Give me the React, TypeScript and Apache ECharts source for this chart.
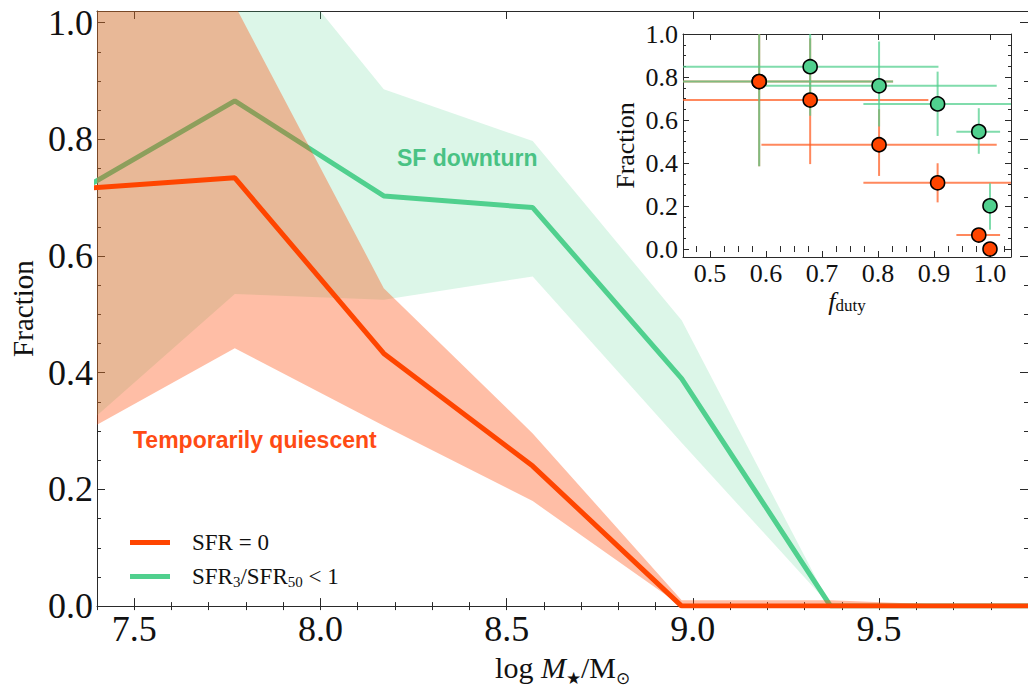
import React, { useEffect, useRef } from "react";
import * as echarts from "echarts";

// ---- main panel: fraction vs stellar mass ----
const massX = [7.37, 7.77, 8.17, 8.57, 8.97, 9.37, 9.77, 10.17];
const sfr0Line = [0.716, 0.734, 0.433, 0.24, 0, 0, 0, 0];
const sfr0Low = [0.3, 0.442, 0.309, 0.18, 0, 0, 0, 0];
const sfr0High = [1.1, 1.03, 0.545, 0.296, 0.01, 0.01, 0, 0];
const downLine = [0.718, 0.866, 0.703, 0.683, 0.39, 0, 0, 0];
const downLow = [0.31, 0.535, 0.525, 0.565, 0.28, 0, 0, 0];
const downHigh = [1.1, 1.2, 0.886, 0.797, 0.49, 0, 0, 0];

const massTicks = [7.5, 8.0, 8.5, 9.0, 9.5];
const massMinorTicks = [7.4, 7.5, 7.6, 7.7, 7.8, 7.9, 8.0, 8.1, 8.2, 8.3, 8.4, 8.5, 8.6, 8.7, 8.8, 8.9, 9.0, 9.1, 9.2, 9.3, 9.4, 9.5, 9.6, 9.7, 9.8, 9.9];
const fracTicks = [0, 0.2, 0.4, 0.6, 0.8, 1.0];
const fracMinorTicks = [0.05, 0.1, 0.15, 0.25, 0.3, 0.35, 0.45, 0.5, 0.55, 0.65, 0.7, 0.75, 0.85, 0.9, 0.95];

// ---- inset: fraction vs duty cycle ----
const redDutyX = [0.588, 0.679, 0.802, 0.9065, 0.98, 1.0];
const redFracY = [0.779, 0.693, 0.485, 0.308, 0.065, 0.0];
const redDutyLo = [0.4, 0.4, 0.592, 0.774, 0.94, 1.0];
const redDutyHi = [0.827, 0.89, 1.012, 1.06, 1.018, 1.0];
const redFracLo = [0.385, 0.395, 0.34, 0.217, 0.065, 0.0];
const redFracHi = [1.05, 0.98, 0.65, 0.399, 0.065, 0.0];

const greenDutyX = [0.588, 0.679, 0.802, 0.9065, 0.98, 1.0];
const greenFracY = [0.779, 0.848, 0.759, 0.675, 0.546, 0.201];
const greenDutyLo = [0.4, 0.4, 0.6, 0.774, 0.94, 1.0];
const greenDutyHi = [0.827, 0.908, 1.012, 1.06, 1.018, 1.0];
const greenFracLo = [0.385, 0.62, 0.57, 0.526, 0.443, 0.09];
const greenFracHi = [1.05, 1.05, 0.965, 0.825, 0.655, 0.306];

const dutyTicks = [0.5, 0.6, 0.7, 0.8, 0.9, 1.0];
const dutyMinorTicks = [0.475, 0.525, 0.55, 0.575, 0.625, 0.65, 0.675, 0.725, 0.75, 0.775, 0.825, 0.85, 0.875, 0.925, 0.95, 0.975, 1.025];
const insetFracTicks = [0, 0.2, 0.4, 0.6, 0.8, 1.0];
const insetFracMinorTicks = [0.05, 0.1, 0.15, 0.25, 0.3, 0.35, 0.45, 0.5, 0.55, 0.65, 0.7, 0.75, 0.85, 0.9, 0.95];

const SERIF = "Liberation Serif";
const SANS = "Liberation Sans";
const RED = "#ff4500";
const GREEN = "#50d08e";
const AXIS = "#2a2a2a";

function buildAxes(
  grid: number,
  pos: string,
  opp: string,
  min: number,
  max: number,
  major: number[],
  minor: number[],
  majorLen: number,
  minorLen: number,
  labelSize: number,
  labelMargin: number,
  extra: any
) {
  const base = { type: "value", gridIndex: grid, min, max, splitLine: { show: false } };
  const lineOn = { show: true, onZero: false, lineStyle: { color: AXIS, width: 1 } };
  const tick = (vals: number[], len: number) => ({
    show: true,
    inside: true,
    length: len,
    customValues: vals,
    lineStyle: { color: AXIS, width: 1 },
  });
  return [
    {
      ...base,
      position: pos,
      axisLine: lineOn,
      axisTick: tick(major, majorLen),
      axisLabel: {
        show: true,
        customValues: major,
        formatter: (v: number) => v.toFixed(1),
        fontFamily: SERIF,
        fontSize: labelSize,
        color: "#111",
        margin: labelMargin,
      },
      ...extra,
    },
    { ...base, position: pos, axisLine: { show: false }, axisTick: tick(minor, minorLen), axisLabel: { show: false } },
    { ...base, position: opp, axisLine: lineOn, axisTick: tick(major, majorLen), axisLabel: { show: false } },
    { ...base, position: opp, axisLine: { show: false }, axisTick: tick(minor, minorLen), axisLabel: { show: false } },
  ];
}

function errorBarRender(color: string) {
  return (params: any, api: any) => {
    const x = api.value(0);
    const y = api.value(1);
    const h1 = api.coord([api.value(2), y]);
    const h2 = api.coord([api.value(3), y]);
    const v1 = api.coord([x, api.value(4)]);
    const v2 = api.coord([x, api.value(5)]);
    const st = { stroke: color, lineWidth: 2, opacity: 0.72 };
    return {
      type: "group",
      children: [
        { type: "line", shape: { x1: h1[0], y1: h1[1], x2: h2[0], y2: h2[1] }, style: st },
        { type: "line", shape: { x1: v1[0], y1: v1[1], x2: v2[0], y2: v2[1] }, style: st },
      ],
    };
  };
}

function bandRender(xs: number[], lo: number[], hi: number[], fill: string) {
  return (params: any, api: any) => {
    if (params.dataIndex !== 0) return null;
    const upper = xs.map((x, i) => api.coord([x, hi[i]]));
    const lower = xs.map((x, i) => api.coord([x, lo[i]])).reverse();
    return { type: "polygon", shape: { points: upper.concat(lower) }, style: { fill } };
  };
}

export default function App() {
  const ref = useRef<HTMLDivElement>(null);

  useEffect(() => {
    document.body.style.margin = "0";
    if (!ref.current) return;
    const chart = echarts.init(ref.current, undefined, { renderer: "svg" });

    const pts = (ys: number[]) => massX.map((x, i) => [x, ys[i]]);
    const bandRows = (lo: number[], hi: number[]) => massX.map((x, i) => [x, lo[i], hi[i]]);
    const errRows = (xs: number[], ys: number[], xl: number[], xh: number[], yl: number[], yh: number[]) =>
      xs.map((x, i) => [x, ys[i], xl[i], xh[i], yl[i], yh[i]]);

    const mainName = {
      name: "{n|log }{i|M}{s|★}{n|/M}{s|⊙}",
      nameLocation: "middle",
      nameGap: 37,
      nameTextStyle: {
        rich: {
          n: { fontFamily: SERIF, fontSize: 30, color: "#111", lineHeight: 40 },
          i: { fontFamily: SERIF, fontSize: 30, fontStyle: "italic", color: "#111", lineHeight: 40 },
          s: { fontFamily: SERIF, fontSize: 17, color: "#111", verticalAlign: "bottom" },
        },
      },
    };
    const mainYName = {
      name: "Fraction",
      nameLocation: "middle",
      nameGap: 56,
      nameRotate: 90,
      nameTextStyle: { fontFamily: SERIF, fontSize: 29, color: "#111" },
    };
    const insetXName = {
      name: "{f|f}{s|duty}",
      nameLocation: "middle",
      nameGap: 31,
      nameTextStyle: {
        rich: {
          f: { fontFamily: SERIF, fontSize: 26, fontStyle: "italic", color: "#111", lineHeight: 26 },
          s: { fontFamily: SERIF, fontSize: 17, color: "#111", verticalAlign: "bottom" },
        },
      },
    };
    const insetYName = {
      name: "Fraction",
      nameLocation: "middle",
      nameGap: 45,
      nameRotate: 90,
      nameTextStyle: { fontFamily: SERIF, fontSize: 26, color: "#111" },
    };

    const xAxes = [
      ...buildAxes(0, "bottom", "top", 7.4, 9.9, massTicks, massMinorTicks, 8, 4, 36, 5, mainName),
      ...buildAxes(1, "bottom", "top", 0.452, 1.0375, dutyTicks, dutyMinorTicks, 6, 3, 26, 3, insetXName),
    ];
    const yAxes = [
      ...buildAxes(0, "left", "right", 0, 1.02, fracTicks, fracMinorTicks, 8, 4, 36, 4, mainYName),
      ...buildAxes(1, "left", "right", -0.037, 1.0, insetFracTicks, insetFracMinorTicks, 6, 3, 26, 5, insetYName),
    ];

    const option: any = {
      animation: false,
      backgroundColor: "#ffffff",
      textStyle: { fontFamily: SERIF },
      grid: [
        { left: 97, top: 11, width: 931, height: 602 },
        { left: 683, top: 34, width: 328, height: 223, show: true, backgroundColor: "#ffffff", borderWidth: 0 },
      ],
      xAxis: xAxes,
      yAxis: yAxes,
      legend: {
        left: 125,
        top: 526,
        orient: "vertical",
        icon: "rect",
        itemWidth: 40,
        itemHeight: 5,
        itemGap: 11,
        data: ["SFR = 0", "SFR3/SFR50 < 1"],
        formatter: (name: string) =>
          name === "SFR = 0"
            ? "{sp| }{t|SFR = 0}"
            : "{sp| }{t|SFR}{s|3}{t|/SFR}{s|50}{t| < 1}",
        textStyle: {
          rich: {
            sp: { width: 17 },
            t: { fontFamily: SERIF, fontSize: 23, color: "#111", lineHeight: 26 },
            s: { fontFamily: SERIF, fontSize: 15, color: "#111", verticalAlign: "bottom" },
          },
        },
      },
      graphic: [
        {
          type: "text",
          x: 397,
          y: 158,
          style: {
            text: "SF downturn",
            fill: "#48be82",
            fontFamily: SANS,
            fontWeight: "bold",
            fontSize: 23,
            verticalAlign: "middle",
          },
        },
        {
          type: "text",
          x: 133,
          y: 440,
          style: {
            text: "Temporarily quiescent",
            fill: "#ff4b14",
            fontFamily: SANS,
            fontWeight: "bold",
            fontSize: 23,
            verticalAlign: "middle",
          },
        },
      ],
      series: [
        {
          type: "custom",
          name: "downBand",
          xAxisIndex: 0,
          yAxisIndex: 0,
          clip: true,
          silent: true,
          z: 1,
          renderItem: bandRender(massX, downLow, downHigh, "rgba(80,208,142,0.2)"),
          encode: { x: 0, y: [1, 2] },
          data: bandRows(downLow, downHigh),
        },
        {
          type: "line",
          name: "SFR3/SFR50 < 1",
          xAxisIndex: 0,
          yAxisIndex: 0,
          data: pts(downLine),
          symbol: "none",
          z: 2,
          itemStyle: { color: GREEN },
          lineStyle: { color: GREEN, width: 5 },
        },
        {
          type: "custom",
          name: "sfr0Band",
          xAxisIndex: 0,
          yAxisIndex: 0,
          clip: true,
          silent: true,
          z: 3,
          renderItem: bandRender(massX, sfr0Low, sfr0High, "rgba(255,69,0,0.35)"),
          encode: { x: 0, y: [1, 2] },
          data: bandRows(sfr0Low, sfr0High),
        },
        {
          type: "line",
          name: "SFR = 0",
          xAxisIndex: 0,
          yAxisIndex: 0,
          data: pts(sfr0Line),
          symbol: "none",
          z: 4,
          itemStyle: { color: RED },
          lineStyle: { color: RED, width: 5 },
        },
        {
          type: "custom",
          name: "redErr",
          xAxisIndex: 4,
          yAxisIndex: 4,
          clip: true,
          z: 5,
          renderItem: errorBarRender("#ff5a1e"),
          encode: { x: 0, y: 1 },
          data: errRows(redDutyX, redFracY, redDutyLo, redDutyHi, redFracLo, redFracHi),
        },
        {
          type: "custom",
          name: "greenErr",
          xAxisIndex: 4,
          yAxisIndex: 4,
          clip: true,
          z: 6,
          renderItem: errorBarRender("#4fcf8c"),
          encode: { x: 0, y: 1 },
          data: errRows(greenDutyX, greenFracY, greenDutyLo, greenDutyHi, greenFracLo, greenFracHi),
        },
        {
          type: "scatter",
          name: "greenPts",
          xAxisIndex: 4,
          yAxisIndex: 4,
          z: 7,
          symbolSize: 14,
          itemStyle: { color: GREEN, borderColor: "#000", borderWidth: 1.6, opacity: 1 },
          data: greenDutyX.map((x, i) => [x, greenFracY[i]]),
        },
        {
          type: "scatter",
          name: "redPts",
          xAxisIndex: 4,
          yAxisIndex: 4,
          z: 8,
          symbolSize: 14,
          itemStyle: { color: RED, borderColor: "#000", borderWidth: 1.6, opacity: 1 },
          data: redDutyX.map((x, i) => [x, redFracY[i]]),
        },
      ],
    };

    chart.setOption(option);
    return () => chart.dispose();
  }, []);

  return <div ref={ref} style={{ width: 1028, height: 692 }} />;
}
